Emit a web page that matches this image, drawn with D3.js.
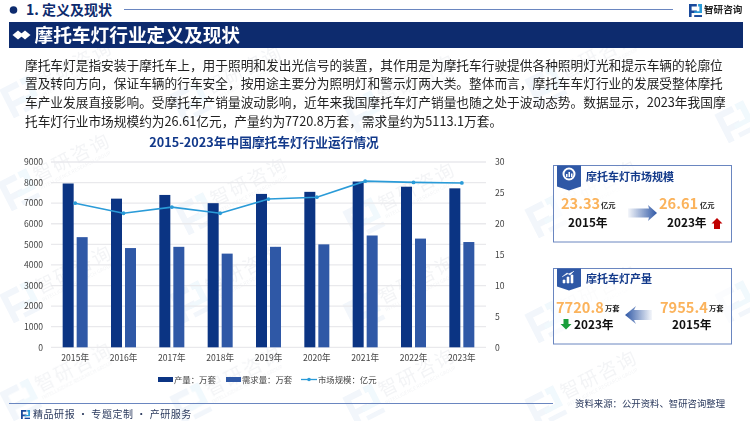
<!DOCTYPE html>
<html lang="zh"><head><meta charset="utf-8">
<script src="https://cdn.jsdelivr.net/npm/d3@7/dist/d3.min.js"></script>
<style>
html,body{margin:0;padding:0;background:#fff;overflow:hidden}
svg{display:block}
text{font-family:"Noto Sans CJK SC","Noto Sans",sans-serif}
</style></head><body>
<svg id="c" width="750" height="421"></svg>
<script>
const years=["2015年","2016年","2017年","2018年","2019年","2020年","2021年","2022年","2023年"];
const production=[7955.4,7220,7400,7000,7450,7550,8050,7800,7720.8];
const demand=[5350,4820,4880,4550,4880,5000,5430,5280,5113.1];
const marketSize=[23.33,21.7,22.7,21.7,24.0,24.3,26.9,26.7,26.61];
const seriesNames=["产量：万套","需求量：万套","市场规模：亿元"];
const leftTicks=[0,1000,2000,3000,4000,5000,6000,7000,8000,9000];
const rightTicks=[0,5,10,15,20,25,30];
const bodyLines=[
"摩托车灯是指安装于摩托车上，用于照明和发出光信号的装置，其作用是为摩托车行驶提供各种照明灯光和提示车辆的轮廓位",
"置及转向方向，保证车辆的行车安全，按用途主要分为照明灯和警示灯两大类。整体而言，摩托车车灯行业的发展受整体摩托",
"车产业发展直接影响。受摩托车产销量波动影响，近年来我国摩托车灯产销量也随之处于波动态势。数据显示，2023年我国摩",
"托车灯行业市场规模约为26.61亿元，产量约为7720.8万套，需求量约为5113.1万套。"];

const NAVY="#0d2b6e",BAR1="#0b3483",BAR2="#2f58a6",LINE="#2a9bd8",ORANGE="#fbb35c",BORDER="#6a86c0";
const svg=d3.select("#c");
const defs=svg.append("defs");
const g1=defs.append("linearGradient").attr("id","gr");
g1.append("stop").attr("offset",0).attr("stop-color","#2f58a6").attr("stop-opacity",.05);
g1.append("stop").attr("offset",1).attr("stop-color","#2f58a6");
const g2=defs.append("linearGradient").attr("id","gl");
g2.append("stop").attr("offset",0).attr("stop-color","#2f58a6");
g2.append("stop").attr("offset",1).attr("stop-color","#2f58a6").attr("stop-opacity",.05);

function logo(g,x,y,s,c){
  const p=g.append("g").attr("transform",`translate(${x},${y}) scale(${s})`).attr("fill",c);
  p.append("path").attr("d","M0 0H6V2H2V5H6V7H2V10H0Z");
  p.append("path").attr("d","M7 0H10V7H4V5.5H8V2H7Z").attr("fill","#2a9bd8");
  p.append("rect").attr("x",4).attr("y",8.5).attr("width",6).attr("height",1.5);
}
// watermark
const wm=svg.append("g").attr("opacity",.065);
const wmSpots=[[18,188],[195,212],[363,217],[545,215],[20,300],[190,100],[363,403],[545,85],[190,300],[20,95],[545,320],[363,110],[190,402],[20,398],[545,405],[363,310]];
wmSpots.forEach(([x,y])=>{
  const g=wm.append("g").attr("transform",`translate(${x},${y}) rotate(-27)`);
  logo(g,-16,-14,3.2,"#2f6fc0");
  g.append("text").attr("x",20).attr("y",4).attr("font-size",19).attr("letter-spacing",2).attr("fill","#4a5a78").text("智研咨询");
  g.append("text").attr("x",20).attr("y",12).attr("font-size",5).attr("fill","#4a5a78").text("INTELLIGENCE RESEARCH GROUP");
});
[[735,120],[735,300]].forEach(([x,y])=>{
  const g=wm.append("g").attr("transform",`translate(${x},${y}) rotate(-27)`);
  logo(g,-16,-14,3.2,"#2f6fc0");
});

// header
svg.append("circle").attr("cx",13.5).attr("cy",10).attr("r",3.8).attr("fill",NAVY);
svg.append("text").attr("x",26).attr("y",15).attr("font-size",14).attr("font-weight",700).attr("fill",NAVY).text("1. 定义及现状");
svg.append("line").attr("x1",124).attr("x2",673).attr("y1",9.5).attr("y2",9.5).attr("stroke",BORDER).attr("stroke-width",1);
logo(svg,689,4,1.3,"#1a4a9c");
svg.append("text").attr("x",704).attr("y",13).attr("font-size",9.6).attr("font-weight",700).attr("fill","#222").text("智研咨询");
svg.append("rect").attr("x",9).attr("y",22).attr("width",734).attr("height",26).attr("fill",NAVY);
[[18,35],[25,35]].forEach(([x,y])=>svg.append("path").attr("d",`M${x-5.5} ${y}L${x} ${y-4.5}L${x+5.5} ${y}L${x} ${y+4.5}Z`).attr("fill","#fff"));
svg.append("text").attr("x",34.5).attr("y",41.5).attr("font-size",18.7).attr("font-weight",700).attr("fill","#fff").text("摩托车灯行业定义及现状");

// body
svg.append("g").selectAll("text").data(bodyLines).join("text")
 .attr("x",25).attr("y",(d,i)=>69.5+i*18.9).attr("font-size",12.7).attr("fill","#222").text(d=>d);

// chart
const margin={l:51,r:486,t:162,b:347.3};
const x=d3.scaleBand().domain(years).range([margin.l,margin.r]);
const sub=d3.scaleBand().domain([0,1]).range([-12.5,12.5]).paddingInner(3/14);
const yL=d3.scaleLinear().domain([0,9000]).range([margin.b,margin.t]);
const yR=d3.scaleLinear().domain([0,30]).range([margin.b,margin.t]);
const cx=d=>x(d)+x.bandwidth()/2;

svg.append("text").attr("x",264).attr("y",146.5).attr("text-anchor","middle").attr("font-size",12.7).attr("font-weight",700).attr("fill","#12398a").text("2015-2023年中国摩托车灯行业运行情况");

svg.append("g").selectAll("line").data(leftTicks).join("line")
 .attr("x1",margin.l).attr("x2",margin.r).attr("y1",d=>yL(d)).attr("y2",d=>yL(d)).attr("stroke","#e9e9ec").attr("stroke-width",1.3);

[[production,BAR1,0],[demand,BAR2,1]].forEach(([vals,col,i])=>{
  svg.append("g").selectAll("rect").data(vals).join("rect")
   .attr("x",(d,j)=>cx(years[j])+sub(i)).attr("width",sub.bandwidth())
   .attr("y",d=>yL(d)).attr("height",d=>yL(0)-yL(d)).attr("fill",col);
});
const line=d3.line().x((d,i)=>cx(years[i])).y(d=>yR(d));
svg.append("path").attr("d",line(marketSize)).attr("fill","none").attr("stroke",LINE).attr("stroke-width",1.6);
svg.append("g").selectAll("circle").data(marketSize).join("circle")
 .attr("cx",(d,i)=>cx(years[i])).attr("cy",d=>yR(d)).attr("r",1.9).attr("fill",LINE);

function styleAxis(g){g.select(".domain").remove();g.selectAll("text").attr("font-size",8.6).attr("fill","#444");}
svg.append("g").attr("transform",`translate(${margin.l-8},0)`).call(d3.axisLeft(yL).tickValues(leftTicks).tickFormat(d3.format("d")).tickSize(0).tickPadding(0)).call(styleAxis);
svg.append("g").attr("transform",`translate(${margin.r+9},0)`).call(d3.axisRight(yR).tickValues(rightTicks).tickSize(0).tickPadding(0)).call(styleAxis);
svg.append("g").attr("transform",`translate(0,${margin.b+8})`).call(d3.axisBottom(x).tickSize(0).tickPadding(0)).call(styleAxis);

// legend
const lg=svg.append("g");
lg.append("rect").attr("x",158).attr("y",377).attr("width",15).attr("height",5).attr("fill",BAR1);
lg.append("text").attr("x",174).attr("y",382.5).attr("font-size",8.4).attr("fill","#444").text(seriesNames[0]);
lg.append("rect").attr("x",226).attr("y",377).attr("width",15).attr("height",5).attr("fill",BAR2);
lg.append("text").attr("x",242).attr("y",382.5).attr("font-size",8.4).attr("fill","#444").text(seriesNames[1]);
lg.append("line").attr("x1",301).attr("x2",317).attr("y1",379.5).attr("y2",379.5).attr("stroke",LINE).attr("stroke-width",1.3);
lg.append("circle").attr("cx",309).attr("cy",379.5).attr("r",1.8).attr("fill",LINE);
lg.append("text").attr("x",318).attr("y",382.5).attr("font-size",8.4).attr("fill","#444").text(seriesNames[2]);

// cards
function card(y,h,tabH,title,titleY){
  svg.append("rect").attr("x",553.5).attr("y",y).attr("width",178).attr("height",h).attr("fill","#fff").attr("fill-opacity",.7).attr("stroke",BORDER).attr("stroke-width",1);
  svg.append("path").attr("d",`M557 ${y}H581V${y+tabH-4}L569 ${y+tabH}L557 ${y+tabH-4}Z`).attr("fill",BAR2);
  svg.append("text").attr("x",586).attr("y",titleY).attr("font-size",11).attr("font-weight",700).attr("fill","#12398a").text(title);
}
function t(x,y,s,fs,c){return svg.append("text").attr("x",x).attr("y",y).attr("font-size",fs).attr("font-weight",700).attr("fill",c).text(s);}
card(165.5,76.5,25,"摩托车灯市场规模",181);
svg.append("circle").attr("cx",569).attr("cy",174).attr("r",5.5).attr("fill","none").attr("stroke","#fff").attr("stroke-width",2);
svg.append("path").attr("d","M566 177V174H567.5V177ZM568.5 177V172H570V177ZM571 177V173.5H572.5V177Z").attr("fill","#fff");
t(561,208.5,"23.33",14.6,ORANGE); t(601,208,"亿元",7.3,"#222");
t(568,226.5,"2015年",11.8,"#111");
svg.append("path").attr("d","M628 208.5H649L648 205L657 213L648 221L649 217.5H628Z").attr("fill","url(#gr)");
t(659,208.5,"26.61",14.6,ORANGE); t(700,208,"亿元",7.3,"#222");
t(667,226.5,"2023年",11.8,"#111");
svg.append("path").attr("d","M717 218L722.5 223.5H720V229H714V223.5H711.5Z").attr("fill","#c00000");

card(268.5,75.5,22,"摩托车灯产量",283);
svg.append("path").attr("d","M563 283V280H565V283ZM567 283V277H569V283ZM571 283V275H573V283ZM562 277L567 273L570 275L574 271").attr("fill","#fff").attr("stroke","#fff").attr("stroke-width",.6);
t(556,312.5,"7720.8",14.6,ORANGE); t(605,311,"万套",7.3,"#222");
svg.append("path").attr("d","M563.5 319H568.5V324H571.5L566 329.5L560.5 324H563.5Z").attr("fill","#1a9e3c");
t(574,329,"2023年",11.8,"#111");
t(660,312.5,"7955.4",14.6,ORANGE); t(709,311,"万套",7.3,"#222");
t(672,329,"2015年",11.8,"#111");
svg.append("path").attr("d","M652 310H634L636 306L625 315L636 324L634 320H652Z").attr("fill","url(#gl)");

// footer
svg.append("line").attr("x1",9).attr("x2",553).attr("y1",403.5).attr("y2",403.5).attr("stroke",BORDER).attr("stroke-width",1);
logo(svg,21,410,.9,"#1a4a9c");
svg.append("text").attr("x",33).attr("y",418).attr("font-size",10).attr("fill","#2b3a5e").attr("letter-spacing",.55).text("精品研报 · 专题定制 · 产研服务");
svg.append("text").attr("x",575).attr("y",407).attr("font-size",9.4).attr("fill","#2b3a5e").text("资料来源：公开资料、智研咨询整理");
</script></body></html>
